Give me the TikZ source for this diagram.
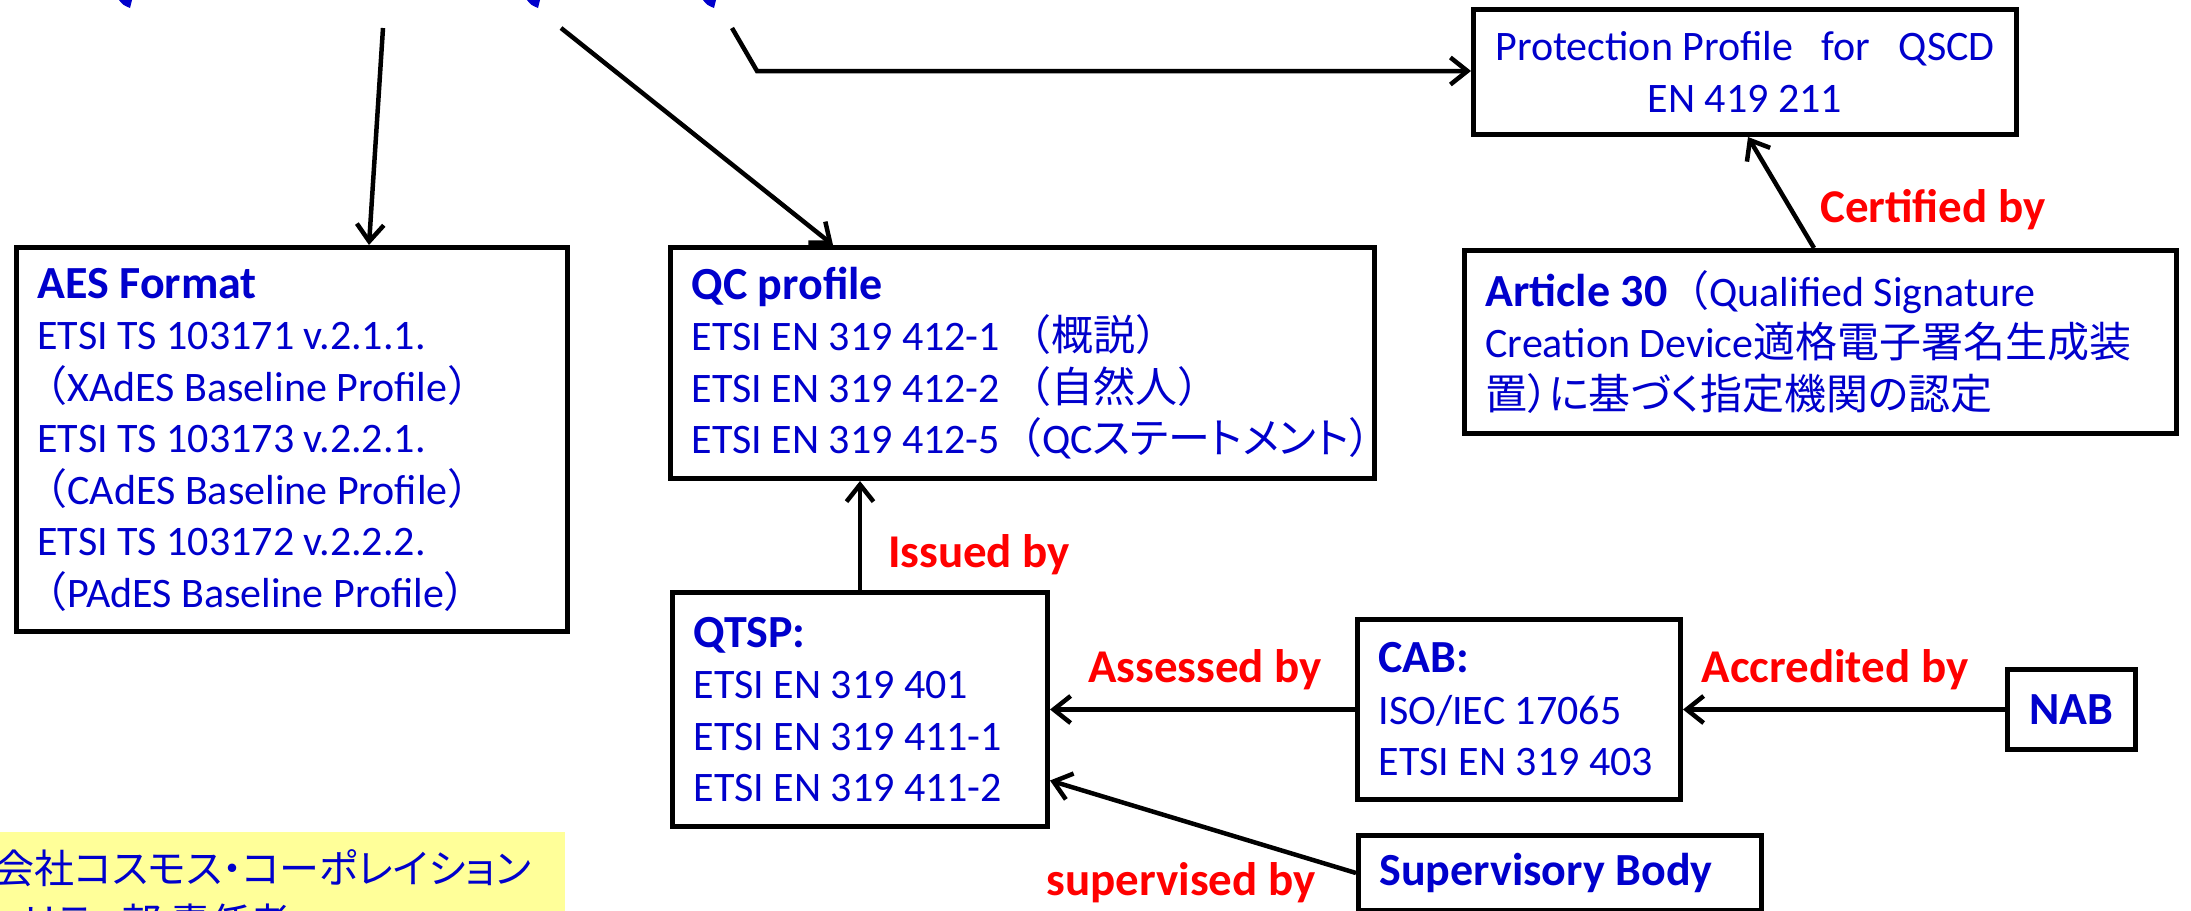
\documentclass[tikz,border=0pt]{standalone}
\usepackage{fontspec}
\setmainfont{Carlito}
\newfontfamily\jpfont{Noto Sans CJK JP}
\newfontfamily\jpprop[RawFeature=+palt]{Noto Sans CJK JP}
\usepackage{xcolor}
\usepackage{tikz}
\usetikzlibrary{arrows.meta}
\definecolor{txtblue}{RGB}{0,0,204}
\definecolor{lblred}{RGB}{255,0,0}
\definecolor{memoyellow}{RGB}{255,255,153}
\newcommand{\bodyfont}{\fontsize{42}{51.5}\selectfont}
\newcommand{\headfont}{\fontsize{46}{51.5}\selectfont\bfseries}

\begin{document}
\begin{tikzpicture}[x=1pt, y=-1pt,
  box/.style={draw, line width=5pt, fill=white, anchor=north west, align=flush left, inner xsep=21pt, inner ysep=0pt, text=txtblue, font=\bodyfont},
  lbl/.style={text=lblred, font=\fontsize{47}{56}\selectfont\bfseries, inner sep=0pt},
  memo/.style={fill=memoyellow, anchor=north west, align=flush left, text=txtblue, font=\fontsize{40}{54}\selectfont\jpprop, inner xsep=10pt, inner ysep=17pt},
  arr/.style={line width=4.5pt, -{Straight Barb[length=17pt, width=27pt]}}]
\useasboundingbox (0,0) rectangle (2191,910);
\clip (0,0) rectangle (2191,910);
\fill[white] (0,0) rectangle (2191,910);

\foreach \mx in {128,536,712}
  \fill[txtblue] (\mx-9,0) .. controls (\mx-5,5) .. (\mx+2,8) -- (\mx+4,0) -- cycle;

\node[box, minimum width=551pt, minimum height=384pt, text width=509pt] (aes) at (14,245)
  {{\headfont AES Format}\\
   ETSI TS 103171 v.2.1.1.\\
   \hspace*{-12pt}{\jpfont （}XAdES Baseline Profile{\jpfont ）}\\
   ETSI TS 103173 v.2.2.1.\\
   \hspace*{-12pt}{\jpfont （}CAdES Baseline Profile{\jpfont ）}\\
   ETSI TS 103172 v.2.2.2.\\
   \hspace*{-12pt}{\jpfont （}PAdES Baseline Profile{\jpfont ）}};
\node[box, minimum width=704pt, minimum height=231pt, text width=662pt] (qc) at (668,245)
  {{\headfont QC profile}\\
   ETSI EN 319 412-1 {\jpfont （概説）}\\
   ETSI EN 319 412-2 {\jpfont （自然人）}\\
   \mbox{ETSI EN 319 412-5{\jpfont （}QC{\jpprop ステートメント}{\jpfont ）}}};
\node[box, align=flush center, inner xsep=6pt, minimum width=543pt, minimum height=125pt, text width=531pt] (pp) at (1471,7)
  {Protection Profile~~~for~~~QSCD\\EN 419 211};
\node[box, minimum width=712pt, minimum height=183pt, text width=670pt] (art) at (1462,248)
  {{\headfont Article 30}{\jpfont （}Qualified Signature\\
   Creation Device{\jpfont 適格電子署名生成装}\\
   {\jpprop 置）に基づく指定機関の認定}};
\node[box, minimum width=375pt, minimum height=234pt, text width=333pt] (qtsp) at (670,590)
  {{\headfont QTSP:}\\ETSI EN 319 401\\ETSI EN 319 411-1\\ETSI EN 319 411-2};
\node[box, minimum width=323pt, minimum height=180pt, text width=281pt] (cab) at (1355,617)
  {{\headfont CAB:}\\ISO/IEC 17065\\ETSI EN 319 403};
\node[box, align=flush center, inner xsep=10pt, minimum width=128pt, minimum height=80pt, text width=108pt] (nab) at (2005,667)
  {\headfont NAB};
\node[box, minimum width=403pt, minimum height=75pt, text width=361pt] (sb) at (1356,833)
  {\headfont Supervisory Body};
\node[memo, minimum width=661pt, text width=641pt] (note) at (-96,832)
  {株式会社コスモス・コーポレイション\\セキュリティ部 責任者};

\node[lbl] (certlbl) at (1933,210) {Certified by};
\node[lbl] (isslbl) at (979,555) {Issued by};
\node[lbl] (asslbl) at (1205,670) {Assessed by};
\node[lbl] (acclbl) at (1835,670) {Accredited by};
\node[lbl] (suplbl) at (1181,883) {supervised by};

\coordinate (s1) at (383,28);
\coordinate (s2) at (561,28);
\coordinate (s3) at (732,28);
\coordinate (k3) at (757,71);
\draw[arr] (s1) -- ([xshift=355pt]aes.north west);
\draw[arr] (s2) -- ([xshift=165pt]qc.north west);
\draw[arr] (s3) -- (k3) -- (k3 -| pp.west);
\draw[arr] ([xshift=352pt]art.north west) -- ([xshift=277pt]pp.south west);
\draw[arr] (qtsp.north) -- (qtsp.north |- qc.south);
\draw[arr] (cab.west) -- (qtsp.east);
\draw[arr] (nab.west) -- (cab.east);
\draw[arr] (sb.west) -- ([yshift=-71pt]qtsp.east);
\end{tikzpicture}
\end{document}
